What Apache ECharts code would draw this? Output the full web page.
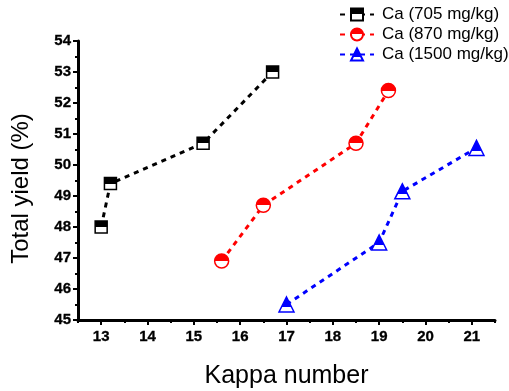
<!DOCTYPE html>
<html>
<head>
<meta charset="utf-8">
<script src="https://cdn.jsdelivr.net/npm/echarts@6/dist/echarts.min.js"></script>
<style>
  html, body { margin: 0; padding: 0; background: #fff; }
  #chart { width: 509px; height: 391px; }
</style>
</head>
<body>
<div id="chart"></div>
<script>
// Kappa number vs. total yield for three Ca levels
const seriesNames = ['Ca (705 mg/kg)', 'Ca (870 mg/kg)', 'Ca (1500 mg/kg)'];
const kappa705 = [13.0, 13.2, 15.2, 16.7];
const yield705 = [48.0, 49.4, 50.7, 53.0];
const kappa870 = [15.6, 16.5, 18.5, 19.2];
const yield870 = [46.9, 48.7, 50.7, 52.4];
const kappa1500 = [17.0, 19.0, 19.5, 21.1];
const yield1500 = [45.5, 47.5, 49.15, 50.55];
const xTicks = [13, 14, 15, 16, 17, 18, 19, 20, 21];
const yTicks = [45, 46, 47, 48, 49, 50, 51, 52, 53, 54];

const pairs = (xs, ys) => xs.map((x, i) => [x, ys[i]]);

// Half-filled marker: coloured on top, white below
function halfFill(color, split) {
  return {
    type: 'linear', x: 0, y: 0, x2: 0, y2: 1,
    colorStops: [
      { offset: 0, color: color },
      { offset: split, color: color },
      { offset: split, color: '#ffffff' },
      { offset: 1, color: '#ffffff' }
    ]
  };
}

function makeSeries(name, data, color, symbol, size, split) {
  return {
    name: name,
    type: 'line',
    xAxisIndex: 0,
    yAxisIndex: 0,
    data: data,
    symbol: symbol,
    symbolSize: size,
    showAllSymbol: true,
    lineStyle: { color: color, width: 3, type: [5, 5] },
    itemStyle: { color: halfFill(color, split), borderColor: color, borderWidth: 1.5 },
    emphasis: { disabled: true },
    z: 3
  };
}

const FONT = '"Liberation Sans", Arial, sans-serif';
const xMin = 12.5, xMax = 21.5;
const gridLeft = 78, gridRight = 14, gridTop = 41, gridBottom = 71;
const plotW = 509 - gridLeft - gridRight;
const unit = plotW / (xMax - xMin);

const chart = echarts.init(document.getElementById('chart'), null, { renderer: 'canvas' });
chart.setOption({
  animation: false,
  backgroundColor: '#ffffff',
  grid: [
    { left: gridLeft, right: gridRight, top: gridTop, bottom: gridBottom, outerBoundsMode: 'none', containLabel: false },
    // integer tick grid: spans exactly from the first to the last labelled kappa value
    {
      left: gridLeft + (xTicks[0] - xMin) * unit,
      right: gridRight + (xMax - xTicks[xTicks.length - 1]) * unit,
      top: gridTop, bottom: gridBottom, outerBoundsMode: 'none', containLabel: false
    }
  ],
  legend: {
    orient: 'vertical',
    left: 334,
    top: 1,
    itemWidth: 34,
    itemHeight: 15,
    itemGap: 3,
    data: seriesNames,
    textStyle: { fontFamily: FONT, fontSize: 17, color: '#000', padding: [0, 0, 0, 3] }
  },
  xAxis: [
    {
      type: 'value', gridIndex: 0, min: xMin, max: xMax, interval: 0.5,
      axisLine: { show: true, lineStyle: { color: '#000', width: 3 } },
      axisTick: { show: true, length: 3, lineStyle: { color: '#000', width: 2 } },
      axisLabel: { show: false },
      splitLine: { show: false },
      name: 'Kappa number', nameLocation: 'middle', nameGap: 44,
      nameTextStyle: { fontFamily: FONT, fontSize: 25, color: '#000' }
    },
    {
      type: 'value', gridIndex: 1, min: xTicks[0], max: xTicks[xTicks.length - 1], interval: 1,
      axisLine: { show: false },
      axisTick: { show: true, length: 5, lineStyle: { color: '#000', width: 2 } },
      axisLabel: {
        show: true, fontFamily: FONT, fontSize: 15, fontWeight: 'bold', color: '#000', margin: 9,
        textBorderColor: '#000', textBorderWidth: 0.3
      },
      splitLine: { show: false }
    }
  ],
  yAxis: [
    {
      type: 'value', gridIndex: 0, min: yTicks[0], max: yTicks[yTicks.length - 1], interval: 1,
      axisLine: { show: true, lineStyle: { color: '#000', width: 3 } },
      axisTick: { show: true, length: 5, lineStyle: { color: '#000', width: 2 } },
      minorTick: { show: true, splitNumber: 2, length: 3, lineStyle: { color: '#000', width: 2 } },
      axisLabel: {
        fontFamily: FONT, fontSize: 15, fontWeight: 'bold', color: '#000', margin: 7,
        textBorderColor: '#000', textBorderWidth: 0.3
      },
      splitLine: { show: false },
      name: 'Total yield (%)', nameLocation: 'middle', nameGap: 45,
      nameTextStyle: { fontFamily: FONT, fontSize: 24, color: '#000', padding: [0, 16, 0, 0] }
    },
    {
      type: 'value', gridIndex: 1, min: 45, max: 54, show: false
    }
  ],
  series: [
    makeSeries(seriesNames[0], pairs(kappa705, yield705), '#000000', 'rect', 12, 0.5),
    makeSeries(seriesNames[1], pairs(kappa870, yield870), '#ff0000', 'circle', 14, 0.5),
    makeSeries(seriesNames[2], pairs(kappa1500, yield1500), '#0000ff', 'triangle', 15, 0.68)
  ]
});
</script>
</body>
</html>
